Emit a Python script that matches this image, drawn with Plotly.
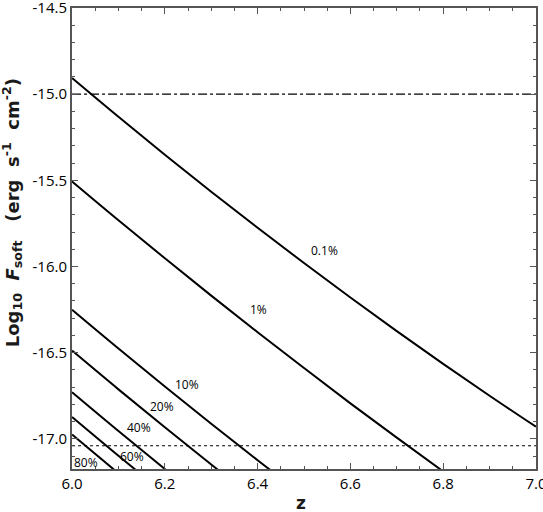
import plotly.graph_objects as go

# redshift grid and log10 soft flux for each obscured fraction
z_vals = [6.0, 6.1, 6.2, 6.3, 6.4, 6.5, 6.6, 6.7, 6.8, 6.9, 7.0]
frac_labels = ["0.1%", "1%", "10%", "20%", "40%", "60%", "80%"]
flux_01 = [-14.906, -15.131, -15.351, -15.566, -15.775, -15.980, -16.180, -16.375, -16.565, -16.750, -16.930]
flux_1 = [-15.507, -15.732, -15.952, -16.169, -16.381, -16.589, -16.794, -16.993, -17.189]
flux_10 = [-16.251, -16.476, -16.696, -16.912, -17.124, -17.330]
flux_20 = [-16.488, -16.713, -16.933, -17.149, -17.360]
flux_40 = [-16.730, -16.955, -17.175, -17.390]
flux_60 = [-16.873, -17.098, -17.318]
flux_80 = [-16.975, -17.200]
curves = [flux_01, flux_1, flux_10, flux_20, flux_40, flux_60, flux_80]

flux_limit_hi = -15.0    # dash-dot
flux_limit_lo = -17.04   # dotted

x_ticks = [6.0, 6.2, 6.4, 6.6, 6.8, 7.0]
y_ticks = [-17.0, -16.5, -16.0, -15.5, -15.0, -14.5]

# label anchor points (z, log flux)
label_pos = [(6.544, -15.906), (6.401, -16.251), (6.248, -16.686), (6.194, -16.811),
             (6.144, -16.937), (6.130, -17.105), (6.031, -17.136)]

fig = go.Figure()
for ys in curves:
    fig.add_trace(go.Scatter(x=z_vals[:len(ys)], y=ys, mode='lines', line_shape='spline',
                             line=dict(color='black', width=2), showlegend=False))

fig.add_trace(go.Scatter(x=[6.0, 7.0], y=[flux_limit_hi, flux_limit_hi], mode='lines',
                         line=dict(color='black', width=1.2, dash='dashdot'), showlegend=False))
fig.add_trace(go.Scatter(x=[6.0, 7.0], y=[flux_limit_lo, flux_limit_lo], mode='lines',
                         line=dict(color='black', width=1.2, dash='dot'), showlegend=False))

for lab, (lx, ly) in zip(frac_labels, label_pos):
    fig.add_annotation(x=lx, y=ly, text=lab, showarrow=False,
                       font=dict(size=12, color='black', family='Open Sans'))

# axis titles
fig.add_annotation(xref='paper', yref='paper', x=-0.129, y=0.555, textangle=-90,
                   text='<b>Log<sub>10</sub>  <i>F</i><sub>soft</sub>   (erg  s<sup>-1</sup>  cm<sup>-2</sup>)</b>',
                   showarrow=False, xanchor='center', yanchor='middle',
                   font=dict(size=18, color='#1a1a1a', family='DejaVu Sans'))
fig.add_annotation(xref='paper', yref='paper', x=0.493, y=-0.074, text='<b>z</b>',
                   showarrow=False, xanchor='center', yanchor='middle',
                   font=dict(size=17, color='#1a1a1a', family='DejaVu Sans'))

axis_common = dict(showline=True, linecolor='#555', linewidth=2, mirror='ticks',
                   ticks='inside', ticklen=6, tickwidth=1.2, tickcolor='#555',
                   showgrid=False, zeroline=False, ticklabeloverflow='allow',
                   tickfont=dict(size=15, color='black', family='Open Sans'))

fig.update_layout(
    width=543, height=512,
    margin=dict(l=72, r=7, t=8, b=43, autoexpand=False),
    plot_bgcolor='white', paper_bgcolor='white',
    xaxis=dict(range=[5.9999, 7.0001], tickvals=x_ticks,
               ticktext=[f'{v:.1f}' for v in x_ticks],
               minor=dict(dtick=0.05, tick0=6.0, ticks='inside', ticklen=3, tickcolor='#555'),
               **axis_common),
    yaxis=dict(range=[-17.175, -14.4999], tickvals=y_ticks,
               ticktext=[f'{v:.1f}' for v in y_ticks],
               minor=dict(dtick=0.1, tick0=-14.5, ticks='inside', ticklen=3, tickcolor='#555'),
               **axis_common),
)

# pin the figure to the window corner so the page is exactly the figure size
page_js = ("document.body.style.margin='0';"
           "document.body.style.overflow='hidden';"
           "document.documentElement.style.overflow='hidden';"
           "var gd=document.getElementsByClassName('plotly-graph-div')[0];"
           "gd.style.position='fixed';gd.style.left='0px';gd.style.top='0px';")
fig.write_html("out.html", config={'displayModeBar': False, 'responsive': False},
               post_script=page_js)
